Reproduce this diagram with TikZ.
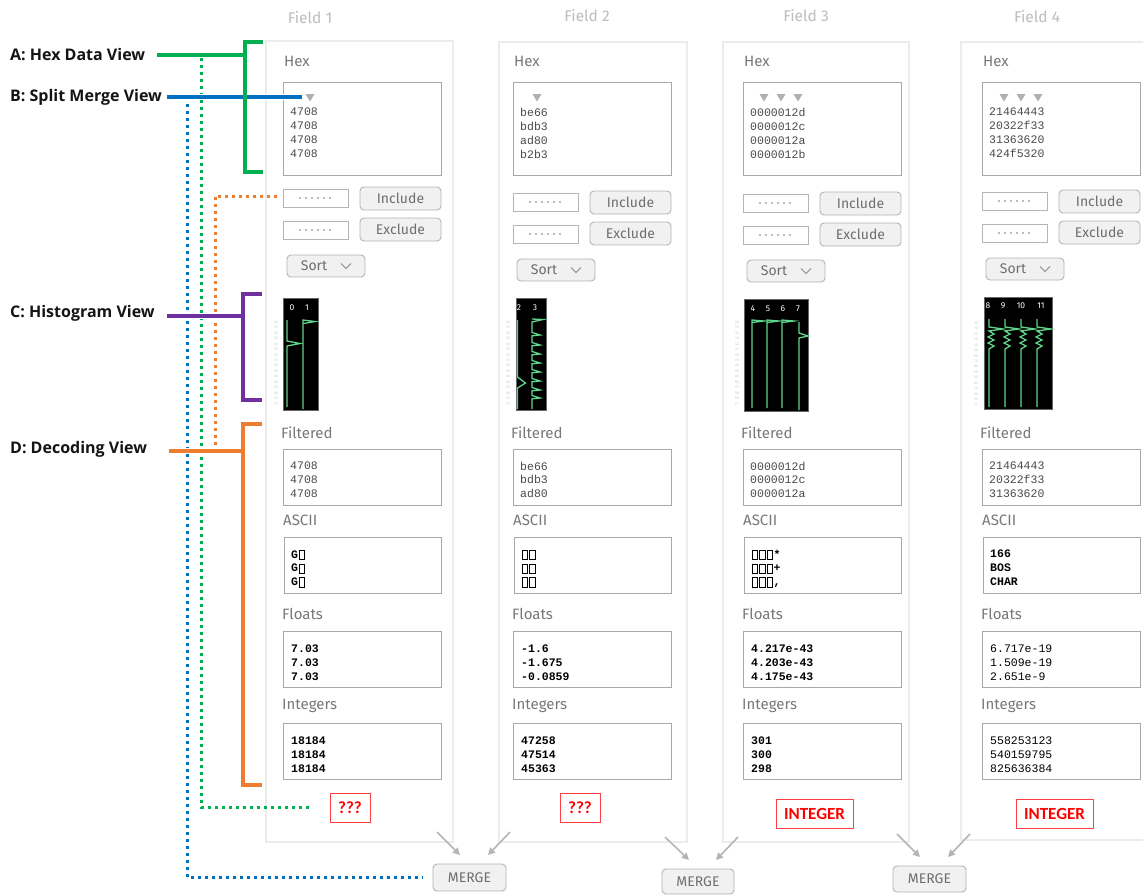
\documentclass[tikz,border=0pt]{standalone}
\usepackage{fontspec}
\setmainfont{Fira Sans}
\setmonofont{Liberation Mono}
\newfontfamily\lblfont{Carlito}
\newfontfamily\annofont{Open Sans}
\usetikzlibrary{arrows.meta}

% an undecodable byte, printed as an empty box
\newcommand\sq{\kern0.6pt{\fboxsep=0pt\fboxrule=0.95pt\fbox{\rule[-1pt]{0pt}{8.4pt}\rule{4.4pt}{0pt}}}\kern0.6pt}

\definecolor{cgreen}{HTML}{00B050}
\definecolor{cblue}{HTML}{0070C0}
\definecolor{cpurple}{HTML}{7030A0}
\definecolor{corange}{HTML}{ED7D31}
\definecolor{panelline}{HTML}{ECECEC}
\definecolor{boxline}{HTML}{A8A8A8}
\definecolor{btnline}{HTML}{B4B4B4}
\definecolor{btnfill}{HTML}{F1F1F1}
\definecolor{btntext}{HTML}{6E6E6E}
\definecolor{uitext}{HTML}{787878}
\definecolor{titletext}{HTML}{BDBDBD}
\definecolor{hexgray}{HTML}{4A4A4A}
\definecolor{dotgray}{HTML}{BDBDBD}
\definecolor{axisgray}{HTML}{CDCDCD}
\definecolor{histgreen}{HTML}{5ED68C}
\definecolor{arrowgray}{HTML}{B5B5B5}
\definecolor{markgray}{HTML}{B0B0B0}

\tikzset{
  panel/.style={draw=panelline, line width=1.1pt},
  databox/.style={draw=boxline, line width=0.9pt},
  inputbox/.style={draw=boxline!85, line width=0.9pt},
  btn/.style={draw=btnline, fill=btnfill, rounded corners=4pt, line width=0.9pt,
    text=btntext, font=\fontsize{14}{14}\selectfont},
  uilabel/.style={anchor=west, inner sep=0pt, text=uitext, font=\fontsize{15}{15}\selectfont},
  fieldtitle/.style={text=titletext, font=\fontsize{15.5}{15.5}\selectfont},
  hexdata/.style={anchor=north west, inner sep=0pt, align=left, text=hexgray,
    font=\ttfamily\fontsize{11.5}{14}\selectfont},
  filtdata/.style={hexdata, font=\ttfamily\fontsize{11.5}{13.9}\selectfont},
  valplain/.style={anchor=north west, inner sep=0pt, align=left, text=black,
    font=\ttfamily\fontsize{11.5}{13.8}\selectfont},
  valbold/.style={valplain, font=\ttfamily\bfseries\fontsize{11.5}{13.8}\selectfont},
  inputdots/.style={draw=dotgray, line width=2.2pt, dash pattern=on 2.2pt off 3.8pt},
  chev/.style={draw=btntext!80, line width=1pt},
  histbg/.style={fill=black, draw=black!60, line width=0.5pt},
  histnum/.style={text=white, inner sep=0pt, font=\fontsize{8.5}{8.5}\selectfont},
  axislbl/.style={text=axisgray, inner sep=0pt, font=\fontsize{3.6}{3.6}\selectfont},
  trace/.style={draw=histgreen, line width=1.3pt, line join=miter},
  redbox/.style={draw=red!75, line width=0.9pt, text=red,
    font=\lblfont\bfseries\fontsize{17}{17}\selectfont},
  anno/.style={anchor=west, inner sep=0pt, text=black!92,
    font=\annofont\bfseries\fontsize{16}{16}\selectfont},
  dotline/.style={line width=3pt, dash pattern=on 3pt off 4pt},
  bracketline/.style={line width=3.2pt},
  halo/.style={preaction={draw=white, line width=6.5pt}},
  mergearrow/.style={draw=arrowgray, line width=1.6pt,
    -{Triangle[length=7pt,width=7pt]}},
}

% rectangle node given by its corners: style, name, x1, y1, x2, y2, text
\newcommand\uibox[7]{\node[#1, minimum width={#5-#3}, minimum height={#6-#4},
  inner sep=0pt, outer sep=0pt] (#2) at ({(#3+#5)/2},{(#4+#6)/2}) {#7};}

% value scale printed beside a histogram: x, top y, name prefix
\newcommand\histaxis[3]{\foreach \lab [count=\k from 0] in
  {00,10,20,30,40,50,60,70,80,90,A0,B0,C0,D0,E0,FF}
  {\node[axislbl] (#3ax\k) at (#1,{#2+\k*5.47}) {\lab};}}

% one field column: x offset, button y offset, prefix, hex, filtered,
% ascii, floats, integers, style of the float/integer values
\newcommand\fieldui[9]{%
  \begin{scope}[xshift=#1pt]
    \node[uilabel] (#3hexlbl) at (284,61) {Hex};
    \uibox{databox}{#3hex}{283}{82}{441}{175}{}
    \node[hexdata] (#3hextxt) at (290,108) {#4};
    \begin{scope}[yshift=-#2pt]
      \uibox{inputbox}{#3inA}{283}{189}{348}{207}{}
      \uibox{btn}{#3inc}{360}{187}{441}{210}{Include}
      \uibox{inputbox}{#3inB}{283}{221}{348}{239}{}
      \uibox{btn}{#3exc}{360}{218}{441}{241}{Exclude}
      \uibox{btn}{#3sort}{287}{255}{365}{277}{Sort\rule{24pt}{0pt}}
      \draw[inputdots] ([xshift=-17pt]#3inA.center) -- ([xshift=17pt]#3inA.center);
      \draw[inputdots] ([xshift=-17pt]#3inB.center) -- ([xshift=17pt]#3inB.center);
      \draw[chev] ([xshift=15pt,yshift=2.5pt]#3sort.center) -- ++(5,5) -- ++(5,-5);
    \end{scope}
    \node[uilabel] (#3filtlbl) at (281,433) {Filtered};
    \uibox{databox}{#3filt}{283}{449}{441}{505}{}
    \node[filtdata] (#3filttxt) at (290,461.5) {#5};
    \node[uilabel] (#3asclbl) at (283,520) {ASCII};
    \uibox{databox}{#3asc}{284}{537}{441}{593}{}
    \node[valbold] (#3asctxt) at (291,549.5) {#6};
    \node[uilabel] (#3fltlbl) at (282,614) {Floats};
    \uibox{databox}{#3flt}{283}{631}{441}{687}{}
    \node[#9] (#3flttxt) at (291,644.5) {#7};
    \node[uilabel] (#3intlbl) at (282,706) {Integers};
    \uibox{databox}{#3int}{283}{723}{441}{779}{}
    \node[#9] (#3inttxt) at (291,736.5) {#8};
  \end{scope}}

\begin{document}
\begin{tikzpicture}[x=1pt, y=-1pt]
\useasboundingbox (0,0) rectangle (1143,895);
\fill[white] (0,0) rectangle (1143,895);

% column frames and titles
\uibox{panel}{p1}{266}{41}{453}{842}{}
\uibox{panel}{p2}{499}{42}{687}{842}{}
\uibox{panel}{p3}{723}{42}{909}{842}{}
\uibox{panel}{p4}{961}{42}{1152}{840}{}
\node[fieldtitle] (t1) at (310,18) {Field 1};
\node[fieldtitle] (t2) at (587,16) {Field 2};
\node[fieldtitle] (t3) at (806,16) {Field 3};
\node[fieldtitle] (t4) at (1037,17) {Field 4};

\fieldui{0}{0}{a}{4708\\4708\\4708\\4708}{4708\\4708\\4708}%
  {G\sq\\G\sq\\G\sq}{7.03\\7.03\\7.03}{18184\\18184\\18184}{valbold}
\fieldui{230}{4}{b}{be66\\bdb3\\ad80\\b2b3}{be66\\bdb3\\ad80}%
  {\sq\sq\\\sq\sq\\\sq\sq}{-1.6\\-1.675\\-0.0859}{47258\\47514\\45363}{valbold}
\fieldui{460}{5}{c}{0000012d\\0000012c\\0000012a\\0000012b}{0000012d\\0000012c\\0000012a}%
  {\sq\sq\sq*\\\sq\sq\sq+\\\sq\sq\sq,}{4.217e-43\\4.203e-43\\4.175e-43}{301\\300\\298}{valbold}
\fieldui{699}{3}{d}{21464443\\20322f33\\31363620\\424f5320}{21464443\\20322f33\\31363620}%
  {166\\BOS\\CHAR}{6.717e-19\\1.509e-19\\2.651e-9}{558253123\\540159795\\825636384}{valplain}

% byte markers above the hex columns
\foreach \cx in {310,537,764,781,798,1004,1021,1038}
  \fill[markgray] ({\cx-4.5},94) -- ({\cx+4.5},94) -- (\cx,101.5) -- cycle;

% histograms
\uibox{histbg}{h1}{283}{298}{318}{410}{}
\node[histnum] (h1n0) at (292,308) {0};
\node[histnum] (h1n1) at (307,308) {1};
\histaxis{276}{322}{a}
\draw[trace] (287,320) -- (287,341) -- (300,343.5) -- (287,346) -- (287,407);
\draw[trace] (303,409) -- (303,320) -- (315,321.5) -- (303.5,323.5);

\uibox{histbg}{h2}{516}{298}{546}{410}{}
\node[histnum] (h2n2) at (519,308) {2};
\node[histnum] (h2n3) at (535,308) {3};
\histaxis{508}{322}{b}
\draw[trace] (517.5,320) -- (517.5,377) -- (525.5,383) -- (517.5,388) -- (517.5,409);
\draw[trace] (532,319) -- (543,319.5) -- (532,322)
  \foreach \yy in {335,345,354,363,372,381,390,398} { -- (532,{\yy-2.5}) -- (540,\yy) -- (532,{\yy+0.8}) }
  -- (532,409);

\uibox{histbg}{h3}{744}{299}{808}{411}{}
\node[histnum] (h3n4) at (753,309) {4};
\node[histnum] (h3n5) at (768,309) {5};
\node[histnum] (h3n6) at (783,309) {6};
\node[histnum] (h3n7) at (798,309) {7};
\histaxis{737}{322}{c}
\foreach \xx in {752,767,782}
  \draw[trace] (\xx,408) -- (\xx,320) -- ({\xx+12},321) -- (\xx,322.5);
\draw[trace] (799,322) -- (799,333) -- (808,336) -- (799,338) -- (799,410);

\uibox{histbg}{h4}{984}{297}{1052}{409}{}
\node[histnum] (h4n8) at (988,306) {8};
\node[histnum] (h4n9) at (1003,306) {9};
\node[histnum] (h4n10) at (1021,306) {10};
\node[histnum] (h4n11) at (1041,306) {11};
\histaxis{976}{323}{d}
\foreach \xx in {989,1005,1021,1037}
  \draw[trace] (\xx,319) -- (\xx,327) -- ({\xx+14},329) -- (\xx,331) -- ({\xx+5},334)
    -- ({\xx-1},337) -- ({\xx+5},340) -- ({\xx-1},343) -- ({\xx+5},346) -- (\xx,349) -- (\xx,407);

% detected types
\uibox{redbox}{q1}{330}{793}{370}{822}{???}
\uibox{redbox}{q2}{560}{793}{600}{822}{???}
\uibox{redbox}{ty3}{776}{799}{853}{828}{INTEGER}
\uibox{redbox}{ty4}{1016}{799}{1093}{828}{INTEGER}

% merge buttons
\uibox{btn}{m1}{433}{864}{506}{891}{MERGE}
\uibox{btn}{m2}{662}{869}{734}{894}{MERGE}
\uibox{btn}{m3}{893}{866}{966}{892}{MERGE}
\coordinate (m1l) at (437,832); \coordinate (m1lt) at (460,855);
\coordinate (m1r) at (510,832); \coordinate (m1rt) at (488,855);
\coordinate (m2l) at (665,837); \coordinate (m2lt) at (689,860);
\coordinate (m2r) at (738,837); \coordinate (m2rt) at (716,860);
\coordinate (m3l) at (897,834); \coordinate (m3lt) at (920,857);
\coordinate (m3r) at (970,834); \coordinate (m3rt) at (948,857);
\draw[mergearrow] (m1l) -- (m1lt);
\draw[mergearrow] (m1r) -- (m1rt);
\draw[mergearrow] (m2l) -- (m2lt);
\draw[mergearrow] (m2r) -- (m2rt);
\draw[mergearrow] (m3l) -- (m3lt);
\draw[mergearrow] (m3r) -- (m3rt);

% view annotations
\node[anno] (lA) at (10,55) {A: Hex Data View};
\node[anno] (lB) at (10,97) {B: Split Merge View};
\node[anno] (lC) at (10,313) {C: Histogram View};
\node[anno] (lD) at (10,449) {D: Decoding View};

\coordinate (bStart) at (187,97);
\coordinate (gStart) at (201,58);
\coordinate (oStart) at (277,196);
\coordinate (oEnd) at (215,447);
\draw[dotline, cblue] (bStart) |- ([xshift=-10pt]m1.west);
\draw[dotline, cgreen] (gStart) |- ([xshift=-18pt]q1.west);
\draw[dotline, corange] (oStart) -| (oEnd);

\coordinate (lAend) at (157,55);  \coordinate (brA) at (245,55);
\coordinate (lBend) at (167,97);  \coordinate (brB) at (302,97);
\coordinate (lCend) at (167,316); \coordinate (brC) at (243,316);
\coordinate (lDend) at (169,451); \coordinate (brD) at (243,451);
\draw[bracketline, cgreen, halo] (lAend) -- (brA);
\draw[bracketline, cblue, halo] (lBend) -- (brB);
\draw[bracketline, cpurple, halo] (lCend) -- (brC);
\draw[bracketline, corange, halo] (lDend) -- (brD);
\draw[bracketline, cgreen] (263,42) -- (245,42) -- (245,172) -- (263,172);
\draw[bracketline, cpurple] (262,294) -- (243,294) -- (243,400) -- (262,400);
\draw[bracketline, corange] (262,424) -- (243,424) -- (243,785) -- (262,785);
\end{tikzpicture}
\end{document}
